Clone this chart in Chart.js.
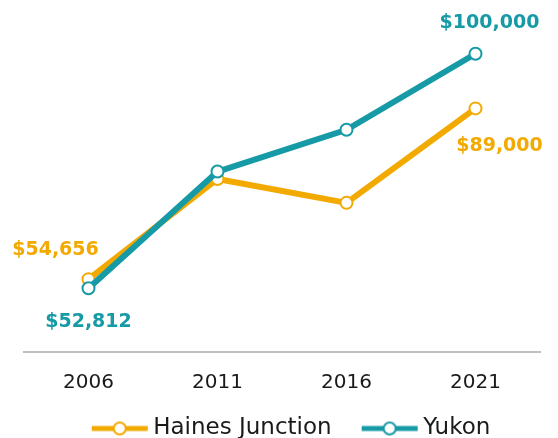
<!DOCTYPE html>
<html lang="en">
<head>
  <meta charset="UTF-8" />
  <title>Median income</title>
  <script src="https://cdn.jsdelivr.net/npm/chart.js"></script>
  <style>
    body { margin: 0; background: #fff; }
    #wrap { width: 558px; height: 438px; }
  </style>
</head>
<body>
  <div id="wrap"><canvas id="incomeChart"></canvas></div>

  <script>
    const years = ['2006', '2011', '2016', '2021'];
    const hainesJunction = [54656, 74800, 70000, 89000];
    const yukon = [52812, 76300, 84700, 100000];

    const orange = '#f2a900';
    const teal = '#159aa6';
    const font = "'DejaVu Sans', sans-serif";

    // legend marker: short line with hollow circle, sits at the right of a wider box
    function legendMarker(color) {
      const c = document.createElement('canvas');
      c.width = 84; c.height = 16;
      const g = c.getContext('2d');
      g.strokeStyle = color;
      g.lineWidth = 5;
      g.beginPath(); g.moveTo(26, 8); g.lineTo(82, 8); g.stroke();
      g.fillStyle = '#fff';
      g.lineWidth = 2;
      g.beginPath(); g.arc(54, 8, 6, 0, Math.PI * 2); g.fill(); g.stroke();
      return c;
    }

    // value labels on first and last points only
    const labelSpots = [
      { ds: 0, i: 0, dx: -33, dy: -29 },
      { ds: 1, i: 0, dx: 0, dy: 34 },
      { ds: 1, i: 3, dx: 14, dy: -31 },
      { ds: 0, i: 3, dx: 24, dy: 38 }
    ];

    const valueLabels = {
      id: 'valueLabels',
      afterDatasetsDraw(chart) {
        const ctx = chart.ctx;
        ctx.save();
        ctx.font = 'bold 19px ' + font;
        ctx.textAlign = 'center';
        ctx.textBaseline = 'middle';
        labelSpots.forEach(s => {
          const ds = chart.data.datasets[s.ds];
          const pt = chart.getDatasetMeta(s.ds).data[s.i];
          ctx.fillStyle = ds.borderColor;
          ctx.fillText('$' + ds.data[s.i].toLocaleString('en-US'), pt.x + s.dx, pt.y + s.dy);
        });
        ctx.restore();
      }
    };

    new Chart(document.getElementById('incomeChart'), {
      type: 'line',
      data: {
        labels: years,
        datasets: [
          {
            label: 'Haines Junction',
            data: hainesJunction,
            borderColor: orange,
            backgroundColor: '#fff',
            borderWidth: 6,
            pointRadius: 6,
            pointBorderWidth: 2,
            pointBackgroundColor: '#fff',
            order: 1,
            legendMarker: legendMarker(orange)
          },
          {
            label: 'Yukon',
            data: yukon,
            borderColor: teal,
            backgroundColor: '#fff',
            borderWidth: 6,
            pointRadius: 6,
            pointBorderWidth: 2,
            pointBackgroundColor: '#fff',
            order: 0,
            legendMarker: legendMarker(teal)
          }
        ]
      },
      options: {
        responsive: true,
        maintainAspectRatio: false,
        animation: false,
        layout: { autoPadding: false, padding: { top: 4, left: 24, right: 18, bottom: -12 } },
        scales: {
          x: {
            offset: true,
            grid: { display: false, tickLength: 9 },
            border: { display: true, color: '#bfbfbf', width: 2 },
            ticks: { color: '#1a1a1a', padding: 10, font: { family: font, size: 20 } }
          },
          y: {
            display: false,
            min: 40000,
            max: 110000
          }
        },
        plugins: {
          tooltip: { enabled: false },
          legend: {
            position: 'bottom',
            labels: {
              usePointStyle: true,
              pointStyleWidth: 68,
              padding: 12,
              color: '#1a1a1a',
              font: { family: font, size: 23 },
              sort: (a, b) => a.datasetIndex - b.datasetIndex,
              generateLabels(chart) {
                const items = Chart.defaults.plugins.legend.labels.generateLabels(chart);
                items.forEach(it => {
                  it.pointStyle = chart.data.datasets[it.datasetIndex].legendMarker;
                });
                return items;
              }
            }
          }
        }
      },
      plugins: [valueLabels]
    });
  </script>
</body>
</html>
